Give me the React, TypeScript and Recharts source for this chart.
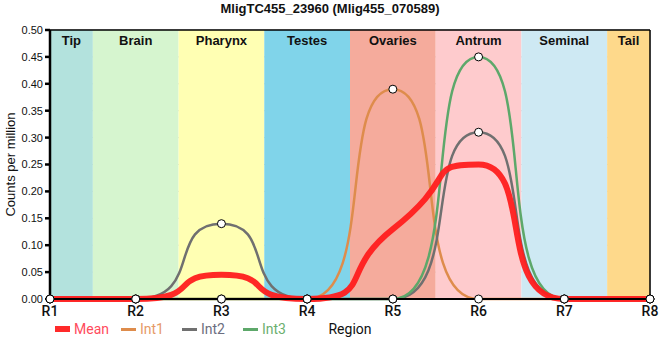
import React from 'react';
import {
  LineChart, Line, XAxis, YAxis, CartesianGrid, ReferenceArea, ReferenceLine, Legend,
} from 'recharts';

const regions = [1, 2, 3, 4, 5, 6, 7, 8];
const meanValues = [0, 0, 0.045, 0, 0.13, 0.25, 0, 0];
const int1Values = [0, 0, 0, 0, 0.39, 0, 0, 0];
const int2Values = [0, 0, 0.14, 0, 0, 0.31, 0, 0];
const int3Values = [0, 0, 0, 0, 0, 0.45, 0, 0];
const yTicks = [0, 0.05, 0.1, 0.15, 0.2, 0.25, 0.3, 0.35, 0.4, 0.45, 0.5];

const bandNames = ['Tip', 'Brain', 'Pharynx', 'Testes', 'Ovaries', 'Antrum', 'Seminal', 'Tail'];
const bandStarts = [1, 1.5, 2.5, 3.5, 4.5, 5.5, 6.5, 7.5];
const bandEnds = [1.5, 2.5, 3.5, 4.5, 5.5, 6.5, 7.5, 8];
const bandColors = ['#b3e2dd', '#d6f5cf', '#ffffb3', '#80d4ea', '#f5ab9c', '#fecbcd', '#cee9f3', '#fed98b'];

const data = regions.map((r, i) => ({
  r,
  Mean: meanValues[i],
  Int1: int1Values[i],
  Int2: int2Values[i],
  Int3: int3Values[i],
}));

// Smooth interpolation style: horizontal tangents at extrema, steep transitions.
const HIGH_REACH = 0.65;
const LOW_REACH = 0.8;
function bellCurve(context: any) {
  let xs: number[] = [];
  let ys: number[] = [];
  return {
    areaStart() {},
    areaEnd() {},
    lineStart() { xs = []; ys = []; },
    point(x: number, y: number) { xs.push(+x); ys.push(+y); },
    lineEnd() {
      const n = xs.length;
      if (!n) return;
      context.moveTo(xs[0], ys[0]);
      if (n === 1) return;
      const m = new Array(n).fill(0);
      for (let i = 1; i < n - 1; i++) {
        const d0 = (ys[i] - ys[i - 1]) / (xs[i] - xs[i - 1]);
        const d1 = (ys[i + 1] - ys[i]) / (xs[i + 1] - xs[i]);
        if (d0 * d1 > 0) m[i] = (d0 + d1) / 2;
      }
      for (let i = 0; i < n - 1; i++) {
        const dx = xs[i + 1] - xs[i];
        const startHigh = ys[i] < ys[i + 1];
        const l0 = (startHigh ? HIGH_REACH : LOW_REACH) * dx;
        const l1 = (startHigh ? LOW_REACH : HIGH_REACH) * dx;
        context.bezierCurveTo(
          xs[i] + l0, ys[i] + m[i] * l0,
          xs[i + 1] - l1, ys[i + 1] - m[i + 1] * l1,
          xs[i + 1], ys[i + 1],
        );
      }
    },
  };
}

const legendItems = [
  { name: 'Mean', color: '#ff2a2a', text: '#ff4b5c', thick: 6, gap: 12 },
  { name: 'Int1', color: '#de8c4c', text: '#e69a66', thick: 3, gap: 18 },
  { name: 'Int2', color: '#707070', text: '#6c6e80', thick: 3, gap: 18 },
  { name: 'Int3', color: '#5da86a', text: '#6caf6e', thick: 3, gap: 18 },
];

const renderLegend = () => (
  <div style={{ display: 'flex', alignItems: 'center', fontFamily: 'Roboto', fontSize: 14 }}>
    {legendItems.map((it) => (
      <div key={it.name} style={{ display: 'flex', alignItems: 'center', marginRight: it.gap }}>
        <div style={{ width: 15, height: it.thick, background: it.color, marginRight: 4 }} />
        <span style={{ color: it.text }}>{it.name}</span>
      </div>
    ))}
  </div>
);

const dotStyle = { r: 4, fill: '#ffffff', stroke: '#000000', strokeWidth: 1 };

export default function App() {
  return (
    <div style={{ position: 'fixed', left: 0, top: 0, width: 660, height: 360, background: '#fff' }}>
      <div
        style={{
          position: 'absolute', left: 0, top: 1, width: 660, textAlign: 'center',
          fontFamily: 'Liberation Sans', fontWeight: 'bold', fontSize: 13, color: '#111',
        }}
      >
        MligTC455_23960 (Mlig455_070589)
      </div>
      <LineChart width={660} height={360} data={data} margin={{ top: 30, right: 10, left: 0, bottom: 21 }}>
        {bandNames.map((b, i) => (
          <ReferenceArea
            key={b}
            x1={bandStarts[i]}
            x2={bandEnds[i]}
            y1={0}
            y2={0.5}
            fill={bandColors[i]}
            fillOpacity={1}
            stroke="none"
            ifOverflow="visible"
            label={{ value: b, position: 'insideTop', offset: 6, fontWeight: 'bold', fontSize: 13, fill: '#111', fontFamily: 'Liberation Sans' }}
          />
        ))}
        <CartesianGrid stroke="#c8c8c8" strokeWidth={1} />
        <XAxis
          dataKey="r"
          type="number"
          domain={[1, 8]}
          ticks={regions}
          tickFormatter={(v) => 'R' + v}
          height={40}
          tickSize={4}
          tickMargin={3}
          stroke="#000"
          strokeWidth={2}
          tick={{ fontSize: 14, fontFamily: 'Roboto', fontWeight: 500, fill: '#111' }}
          label={{ value: 'Region', position: 'insideBottom', offset: 5, fontSize: 14, fontFamily: 'Roboto', fill: '#111' }}
        />
        <YAxis
          domain={[0, 0.5]}
          ticks={yTicks}
          tickFormatter={(v) => v.toFixed(2)}
          width={50}
          tickSize={5}
          tickMargin={2}
          stroke="#000"
          strokeWidth={2.5}
          tick={{ fontSize: 11, fontFamily: 'Liberation Sans', fill: '#111' }}
          label={{ value: 'Counts per million', angle: -90, position: 'insideLeft', offset: 10, fontSize: 13, fontFamily: 'Liberation Sans', fill: '#111', style: { textAnchor: 'middle' } }}
        />
        <ReferenceLine y={0.5} stroke="#000" strokeWidth={1.5} />
        <ReferenceLine x={8} stroke="#000" strokeWidth={1.5} />
        <Line type={bellCurve as any} dataKey="Int1" stroke="#de8c4c" strokeWidth={2.5} dot={dotStyle} activeDot={false} isAnimationActive={false} />
        <Line type={bellCurve as any} dataKey="Int2" stroke="#707070" strokeWidth={2.5} dot={dotStyle} activeDot={false} isAnimationActive={false} />
        <Line type={bellCurve as any} dataKey="Int3" stroke="#5da86a" strokeWidth={2.5} dot={dotStyle} activeDot={false} isAnimationActive={false} />
        <Line type={bellCurve as any} dataKey="Mean" stroke="#ff1e1e" strokeOpacity={0.95} strokeWidth={6} dot={false} activeDot={false} isAnimationActive={false} />
        <Legend
          verticalAlign="middle"
          content={renderLegend}
          wrapperStyle={{ left: 55, top: 321, width: 260, height: 20 }}
        />
      </LineChart>
    </div>
  );
}
